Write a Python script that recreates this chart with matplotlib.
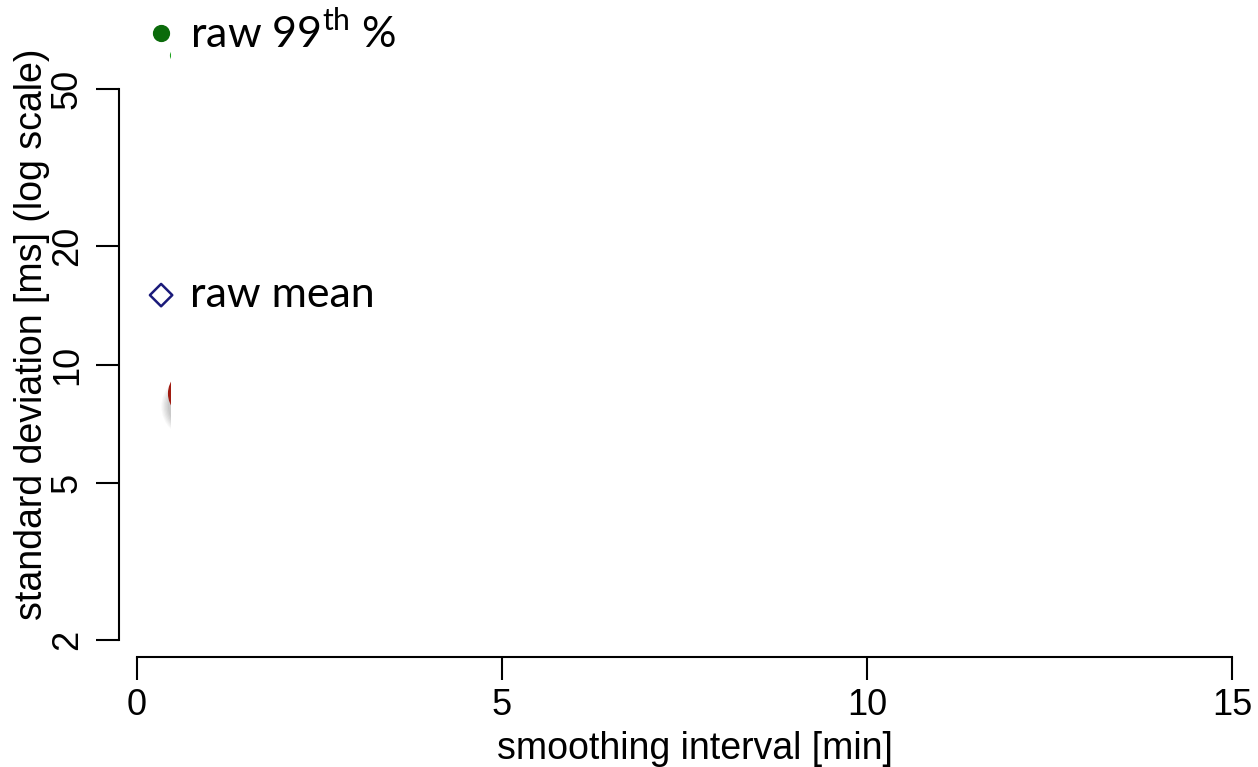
import numpy as np
import matplotlib
matplotlib.use("Agg")
import matplotlib.pyplot as plt
from matplotlib.patches import Rectangle

plt.rcParams['font.family'] = ['Liberation Sans', 'DejaVu Sans']
plt.rcParams['mathtext.fontset'] = 'custom'
plt.rcParams['mathtext.rm'] = 'Lato'

# smoothing interval [min] vs standard deviation [ms]
p99_x = [0.33]
p99_y = [69.4]
mean_x = [0.33]
mean_y = [15.0]
smooth_x = [0.75]
smooth_y = [8.46]
smooth99_x = [0.53]
smooth99_y = [61.0]

xticks = [0, 5, 10, 15]
yticks = [2, 5, 10, 20, 50]

W, H = 1258, 767
fig = plt.figure(figsize=(W / 100, H / 100), dpi=100)
ax_w, ax_h = 1250 - 119, 657 - 10
ax = fig.add_axes([119 / W, (H - 657) / H, ax_w / W, ax_h / H])

pxu = 73.0
ax.set_xlim(-18 / pxu, (1250 - 137) / pxu)
ax.set_yscale('log')
per_dec = 394.0
ax.set_ylim(10 ** (np.log10(2) - 17 / per_dec), 10 ** (np.log10(50) + 79 / per_dec))

for s in ['top', 'right']:
    ax.spines[s].set_visible(False)
ax.spines['left'].set_bounds(2, 50)
ax.spines['bottom'].set_bounds(0, 15)
for s in ['left', 'bottom']:
    ax.spines[s].set_linewidth(1.5)

ax.set_xticks(xticks)
ax.set_xticklabels([str(t) for t in xticks])
ax.set_yticks(yticks)
ax.set_yticklabels([str(t) for t in yticks], rotation=90, va='center')
ax.yaxis.set_minor_locator(matplotlib.ticker.NullLocator())
ax.tick_params(axis='both', length=16.5, width=1.5, labelsize=26, pad=6)
ax.tick_params(axis='y', pad=8)

ax.set_xlabel('smoothing interval [min]', fontsize=27)
ax.set_ylabel('standard deviation [ms] (log scale)', fontsize=27)
ax.xaxis.set_label_coords((695 - 119) / ax_w, -(731 - 657) / ax_h)
ax.xaxis.label.set_va('top')
ax.yaxis.set_label_coords(-(119 - 32) / ax_w, (657 - 334) / ax_h)
ax.yaxis.label.set_va('center')
ax.yaxis.label.set_ha('center')

# points further right are still hidden: clip at the reveal edge
clip = Rectangle((-1, 0.1), 1 + (170 - 137) / pxu, 1000, transform=ax.transData)

ax.scatter(p99_x, p99_y, s=130, color='#0b6b0b', zorder=5, clip_on=False)
ax.scatter(mean_x, mean_y, s=130, marker='D', facecolor='none',
           edgecolor='#1a1a7a', linewidth=1.8, zorder=5, clip_on=False)

# soft drop shadow under the smoothed point
for k, a in zip(range(6), [0.06, 0.06, 0.07, 0.08, 0.09, 0.10]):
    sh = ax.scatter([smooth_x[0]], [smooth_y[0] * 0.93], s=2000 - k * 150,
                    color='#777777', alpha=a, linewidth=0, zorder=3)
    sh.set_clip_path(clip)
red = ax.scatter(smooth_x, smooth_y, s=1250, color='#a01b10', linewidth=0, zorder=4)
red.set_clip_path(clip)
g2 = ax.scatter(smooth99_x, smooth99_y, s=90, color='#1fa31f', linewidth=0, zorder=4)
g2.set_clip_path(clip)

ax.text(p99_x[0] + 0.4, p99_y[0], 'raw 99$^{\\rm th}$ %', fontsize=31,
        family='Lato', va='center', ha='left', zorder=6, clip_on=False)
ax.text(mean_x[0] + 0.4, mean_y[0], 'raw mean', fontsize=31,
        family='Lato', va='center', ha='left', zorder=6, clip_on=False)

fig.savefig('out.png', dpi=100)
